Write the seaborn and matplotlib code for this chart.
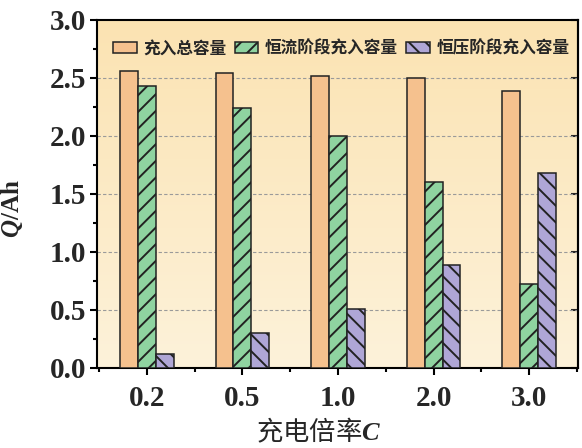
import numpy as np
import pandas as pd
import matplotlib
matplotlib.use("Agg")
import matplotlib.pyplot as plt
import matplotlib.colors as mcolors
from matplotlib.ticker import MultipleLocator
import seaborn as sns

# Charge rate categories and capacities (Ah)
rates = ["0.2", "0.5", "1.0", "2.0", "3.0"]
series_names = ["充入总容量", "恒流阶段充入容量", "恒压阶段充入容量"]
total_cap = [2.56, 2.54, 2.52, 2.50, 2.39]
cc_cap = [2.43, 2.24, 2.00, 1.60, 0.72]
cv_cap = [0.12, 0.30, 0.51, 0.89, 1.68]

df = pd.DataFrame({
    "rate": rates * 3,
    "series": [series_names[0]] * 5 + [series_names[1]] * 5 + [series_names[2]] * 5,
    "value": total_cap + cc_cap + cv_cap,
})

sns.set_theme(style="white")
plt.rcParams["font.family"] = ["Liberation Serif", "Noto Sans CJK SC", "DejaVu Sans"]
plt.rcParams["mathtext.fontset"] = "custom"
plt.rcParams["mathtext.it"] = "Liberation Serif:italic:bold"
plt.rcParams["mathtext.rm"] = "Liberation Serif:bold"
plt.rcParams["hatch.linewidth"] = 1.4

fig = plt.figure(figsize=(5.82, 4.48), dpi=100)
fig.patch.set_facecolor("white")
ax = fig.add_axes([0.1667, 0.1786, 0.8265, 0.7768])

palette = {series_names[0]: "#F5C18E",
           series_names[1]: "#8FD3A0",
           series_names[2]: "#AFA6D6"}
sns.barplot(data=df, x="rate", y="value", hue="series", hue_order=series_names,
            palette=palette, width=0.56, edgecolor="#222222", linewidth=1.1,
            saturation=1, dodge=True, legend=False, ax=ax, zorder=3)

hatches = ["", "//", "\\\\"]
for cont, h in zip(ax.containers, hatches):
    for p in cont.patches:
        p.set_hatch(h)

# soft vertical gradient for the plotting area
grad = np.linspace(0, 1, 256).reshape(-1, 1)
cmap = mcolors.LinearSegmentedColormap.from_list("bg", ["#FDF2DA", "#FBE3B2"])
ax.imshow(grad, cmap=cmap, origin="lower", aspect="auto",
          extent=(-0.52, 4.51, 0, 3.0), zorder=0)
ax.set_xlim(-0.52, 4.51)
ax.set_ylim(0, 3.0)

for yv in [0.5, 1.0, 1.5, 2.0, 2.5]:
    ax.axhline(yv, color="#9a9a9a", lw=0.8, ls=(0, (3, 2)), zorder=1)

ax.yaxis.set_minor_locator(MultipleLocator(0.25))
ax.xaxis.set_minor_locator(MultipleLocator(0.5))
ax.set_yticks([0, 0.5, 1.0, 1.5, 2.0, 2.5, 3.0])
ax.set_yticklabels(["0.0", "0.5", "1.0", "1.5", "2.0", "2.5", "3.0"])
ax.tick_params(axis="both", which="major", direction="out", length=5, width=1.5,
               color="black", left=True, bottom=True, pad=3)
ax.tick_params(axis="both", which="minor", direction="out", length=3, width=1.5,
               color="black", left=True, bottom=True)
for lab in ax.get_xticklabels() + ax.get_yticklabels():
    lab.set_fontfamily("Liberation Serif")
    lab.set_fontweight("bold")
    lab.set_fontsize(21)
ax.tick_params(axis="x", pad=7)

sec = ax.secondary_yaxis("right")
sec.yaxis.set_major_locator(MultipleLocator(0.5))
sec.tick_params(direction="in", length=5, width=1.5, labelright=False)
sec.spines["right"].set_linewidth(1.5)

for s in ax.spines.values():
    s.set_linewidth(1.5)
    s.set_color("black")

ax.set_xlabel("充电倍率$C$", fontsize=19, family=["Noto Sans CJK SC"])
ax.xaxis.set_label_coords(0.46, -0.14)
ax.set_ylabel("$Q$/Ah", fontsize=18, fontweight="bold", family="Liberation Serif")
ax.yaxis.set_label_coords(-0.15, 0.457)

handles = [c.patches[0] for c in ax.containers]
leg = ax.legend(handles=handles, labels=series_names, loc="center",
                bbox_to_anchor=(0.508, 0.918), ncol=3, frameon=False,
                prop={"family": "Noto Sans CJK SC", "weight": "bold", "size": 12},
                handlelength=1.4, handleheight=0.6, handletextpad=0.4,
                columnspacing=0.5, borderaxespad=0.0, borderpad=0.0)

fig.savefig("out.png", dpi=100, facecolor="white")
